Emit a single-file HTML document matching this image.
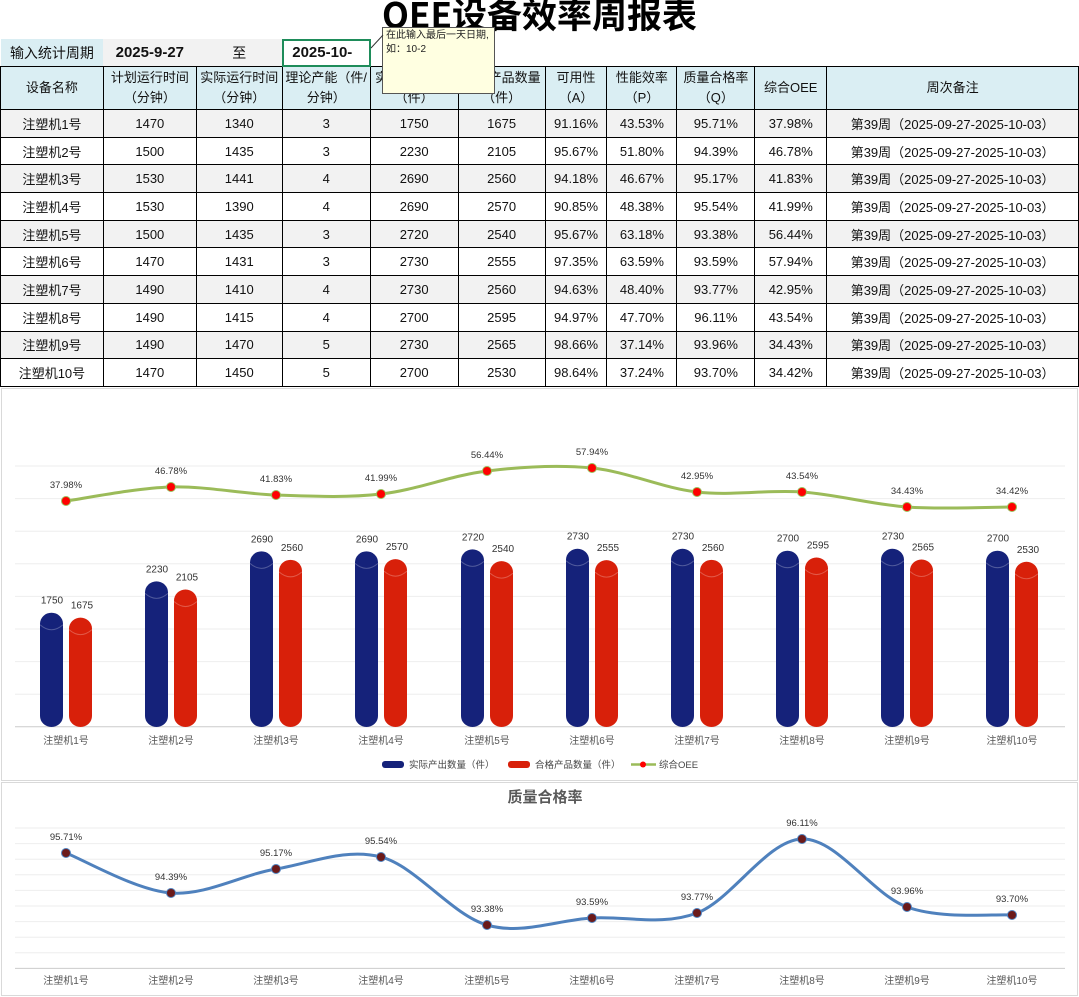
<!DOCTYPE html>
<html><head><meta charset="utf-8">
<style>
body{margin:0;width:1079px;height:997px;overflow:hidden;background:#fff;font-family:"Liberation Sans","Noto Sans CJK SC",sans-serif;position:relative}
.t{position:absolute;font-weight:bold;font-size:35px;left:0;width:1079px;text-align:center;top:-12px;color:#000;font-family:"Noto Sans CJK SC",sans-serif}
table{position:absolute;left:0;top:39px;border-collapse:collapse;table-layout:fixed;font-size:13px;font-family:"Liberation Sans","Noto Sans CJK SC",sans-serif}
td{border:1px solid #000;text-align:center;padding:0;overflow:hidden;white-space:nowrap;height:26.7px;color:#111}
tr.h td{background:#daeef3;height:42px;line-height:20px}
tr.g td{background:#f2f2f2}
tr.i td{border:none;height:27px;background:#fff;font-size:14px}
.cm{position:absolute;left:382px;top:27px;width:113px;height:67px;background:#ffffe1;border:1px solid #555;font-size:10px;line-height:14px;padding:1px 3px;box-sizing:border-box;color:#222}
.sel{position:absolute;left:282px;top:39px;width:89px;height:28px;border:2px solid #1e8c5a;box-sizing:border-box}
</style></head><body>
<div class="t">OEE设备效率周报表</div>
<table>
<colgroup><col style="width:103px"><col style="width:93px"><col style="width:86px"><col style="width:88px"><col style="width:88px"><col style="width:87px"><col style="width:62px"><col style="width:70px"><col style="width:78px"><col style="width:72px"><col style="width:252px"></colgroup>
<tr class="i"><td style="background:#daeef3">输入统计周期</td><td style="background:#f2f2f2;font-weight:bold;font-size:15px">2025-9-27</td><td style="background:#f2f2f2">至</td><td style="font-weight:bold;font-size:15px;text-align:left;padding-left:10px">2025-10-</td><td></td><td></td><td></td><td></td><td></td><td></td><td></td></tr>
<tr class="h"><td>设备名称</td><td>计划运行时间<br>（分钟）</td><td>实际运行时间<br>（分钟）</td><td>理论产能（件/<br>分钟）</td><td>实际产出数量<br>（件）</td><td>合格产品数量<br>（件）</td><td>可用性<br>（A）</td><td>性能效率<br>（P）</td><td>质量合格率<br>（Q）</td><td>综合OEE</td><td>周次备注</td></tr>
<tr class="g"><td>注塑机1号</td><td>1470</td><td>1340</td><td>3</td><td>1750</td><td>1675</td><td>91.16%</td><td>43.53%</td><td>95.71%</td><td>37.98%</td><td>第39周（2025-09-27-2025-10-03）</td></tr>
<tr><td>注塑机2号</td><td>1500</td><td>1435</td><td>3</td><td>2230</td><td>2105</td><td>95.67%</td><td>51.80%</td><td>94.39%</td><td>46.78%</td><td>第39周（2025-09-27-2025-10-03）</td></tr>
<tr class="g"><td>注塑机3号</td><td>1530</td><td>1441</td><td>4</td><td>2690</td><td>2560</td><td>94.18%</td><td>46.67%</td><td>95.17%</td><td>41.83%</td><td>第39周（2025-09-27-2025-10-03）</td></tr>
<tr><td>注塑机4号</td><td>1530</td><td>1390</td><td>4</td><td>2690</td><td>2570</td><td>90.85%</td><td>48.38%</td><td>95.54%</td><td>41.99%</td><td>第39周（2025-09-27-2025-10-03）</td></tr>
<tr class="g"><td>注塑机5号</td><td>1500</td><td>1435</td><td>3</td><td>2720</td><td>2540</td><td>95.67%</td><td>63.18%</td><td>93.38%</td><td>56.44%</td><td>第39周（2025-09-27-2025-10-03）</td></tr>
<tr><td>注塑机6号</td><td>1470</td><td>1431</td><td>3</td><td>2730</td><td>2555</td><td>97.35%</td><td>63.59%</td><td>93.59%</td><td>57.94%</td><td>第39周（2025-09-27-2025-10-03）</td></tr>
<tr class="g"><td>注塑机7号</td><td>1490</td><td>1410</td><td>4</td><td>2730</td><td>2560</td><td>94.63%</td><td>48.40%</td><td>93.77%</td><td>42.95%</td><td>第39周（2025-09-27-2025-10-03）</td></tr>
<tr><td>注塑机8号</td><td>1490</td><td>1415</td><td>4</td><td>2700</td><td>2595</td><td>94.97%</td><td>47.70%</td><td>96.11%</td><td>43.54%</td><td>第39周（2025-09-27-2025-10-03）</td></tr>
<tr class="g"><td>注塑机9号</td><td>1490</td><td>1470</td><td>5</td><td>2730</td><td>2565</td><td>98.66%</td><td>37.14%</td><td>93.96%</td><td>34.43%</td><td>第39周（2025-09-27-2025-10-03）</td></tr>
<tr><td>注塑机10号</td><td>1470</td><td>1450</td><td>5</td><td>2700</td><td>2530</td><td>98.64%</td><td>37.24%</td><td>93.70%</td><td>34.42%</td><td>第39周（2025-09-27-2025-10-03）</td></tr>
</table>
<div class="sel"></div>
<div class="cm">在此输入最后一天日期,<br>如：10-2</div>
<svg id="s" style="position:absolute;left:0;top:0" width="1079" height="997" font-family="Liberation Sans, Noto Sans CJK SC, sans-serif"></svg>
<script>
var s=document.getElementById('s'),h='';
var cx=[66,171,276,381,487,592,697,802,907,1012];
h+='<rect x="1.5" y="388.5" width="1076" height="392" fill="none" stroke="#d9d9d9"/>';
h+='<rect x="1.5" y="782.5" width="1076" height="213" fill="none" stroke="#d9d9d9"/>';
for(var i=0;i<9;i++){var y=466+i*32.6;h+='<line x1="15" x2="1065" y1="'+y+'" y2="'+y+'" stroke="'+(i==8?'#ccc':'#eee')+'"/>';}
var A=[1750,2230,2690,2690,2720,2730,2730,2700,2730,2700],B=[1675,2105,2560,2570,2540,2555,2560,2595,2565,2530];
var sc=0.0653,base=727;
function bar(x,v,c){var t=base-v*sc;return '<rect x="'+x+'" y="'+t+'" width="23" height="'+(base-t)+'" rx="11.5" ry="11" fill="'+c+'"/><path d="M'+x+' '+(t+12)+' Q'+(x+11.5)+' '+(t+22)+' '+(x+23)+' '+(t+12)+'" fill="none" stroke="rgba(255,255,255,0.25)"/>';}
var L=['37.98%','46.78%','41.83%','41.99%','56.44%','57.94%','42.95%','43.54%','34.43%','34.42%'];
var oy=[501,487,495,494,471,468,492,492,507,507];
var Q=['95.71%','94.39%','95.17%','95.54%','93.38%','93.59%','93.77%','96.11%','93.96%','93.70%'];
var qy=[853,893,869,857,925,918,913,839,907,915];
for(i=0;i<10;i++){var x=cx[i];
h+=bar(x-26,A[i],'#15227a')+bar(x+3,B[i],'#d8200a');
h+='<text x="'+(x-14)+'" y="'+(base-A[i]*sc-9)+'" font-size="10" fill="#333" text-anchor="middle">'+A[i]+'</text>';
h+='<text x="'+(x+16)+'" y="'+(base-B[i]*sc-9)+'" font-size="10" fill="#333" text-anchor="middle">'+B[i]+'</text>';
h+='<text x="'+x+'" y="744" font-size="10" fill="#555" text-anchor="middle">注塑机'+(i+1)+'号</text>';
h+='<text x="'+x+'" y="984" font-size="10" fill="#555" text-anchor="middle">注塑机'+(i+1)+'号</text>';
}
function cr(X,Y){var d='M'+X[0]+' '+Y[0];for(var k=0;k<X.length-1;k++){var x0=X[k-1]??X[k],y0=Y[k-1]??Y[k],x3=X[k+2]??X[k+1],y3=Y[k+2]??Y[k+1];d+=' C'+(X[k]+(X[k+1]-x0)/6)+' '+(Y[k]+(Y[k+1]-y0)/6)+' '+(X[k+1]-(x3-X[k])/6)+' '+(Y[k+1]-(y3-Y[k])/6)+' '+X[k+1]+' '+Y[k+1];}return d;}
h+='<path d="'+cr(cx,oy)+'" fill="none" stroke="#9bbb59" stroke-width="3"/>';
for(i=0;i<10;i++){h+='<circle cx="'+cx[i]+'" cy="'+oy[i]+'" r="4.5" fill="#f00" stroke="#9bbb59"/><text x="'+cx[i]+'" y="'+(oy[i]-13)+'" font-size="9.5" fill="#333" text-anchor="middle">'+L[i]+'</text>';}
h+='<rect x="382" y="761" width="22" height="7" rx="3" fill="#15227a"/><text x="409" y="768" font-size="9.5" fill="#444">实际产出数量（件）</text>';
h+='<rect x="508" y="761" width="22" height="7" rx="3" fill="#d8200a"/><text x="535" y="768" font-size="9.5" fill="#444">合格产品数量（件）</text>';
h+='<line x1="631" x2="656" y1="764.5" y2="764.5" stroke="#9bbb59" stroke-width="2.5"/><circle cx="643" cy="764.5" r="3" fill="#f00"/><text x="659" y="768" font-size="9.5" fill="#444">综合OEE</text>';
h+='<text x="545" y="802" font-size="15" font-weight="bold" fill="#595959" text-anchor="middle">质量合格率</text>';
for(i=0;i<10;i++){var y=828+i*15.6;h+='<line x1="15" x2="1065" y1="'+y+'" y2="'+y+'" stroke="'+(i==9?'#ccc':'#eee')+'"/>';}
h+='<path d="'+cr(cx,qy)+'" fill="none" stroke="#4f81bd" stroke-width="3"/>';
for(i=0;i<10;i++){h+='<circle cx="'+cx[i]+'" cy="'+qy[i]+'" r="4.5" fill="#6b1a1a" stroke="#4f81bd"/><text x="'+cx[i]+'" y="'+(qy[i]-13)+'" font-size="9.5" fill="#333" text-anchor="middle">'+Q[i]+'</text>';}
h+='<line x1="371" y1="48" x2="383" y2="35" stroke="#333"/>';
s.innerHTML=h;
</script>
</body></html>
